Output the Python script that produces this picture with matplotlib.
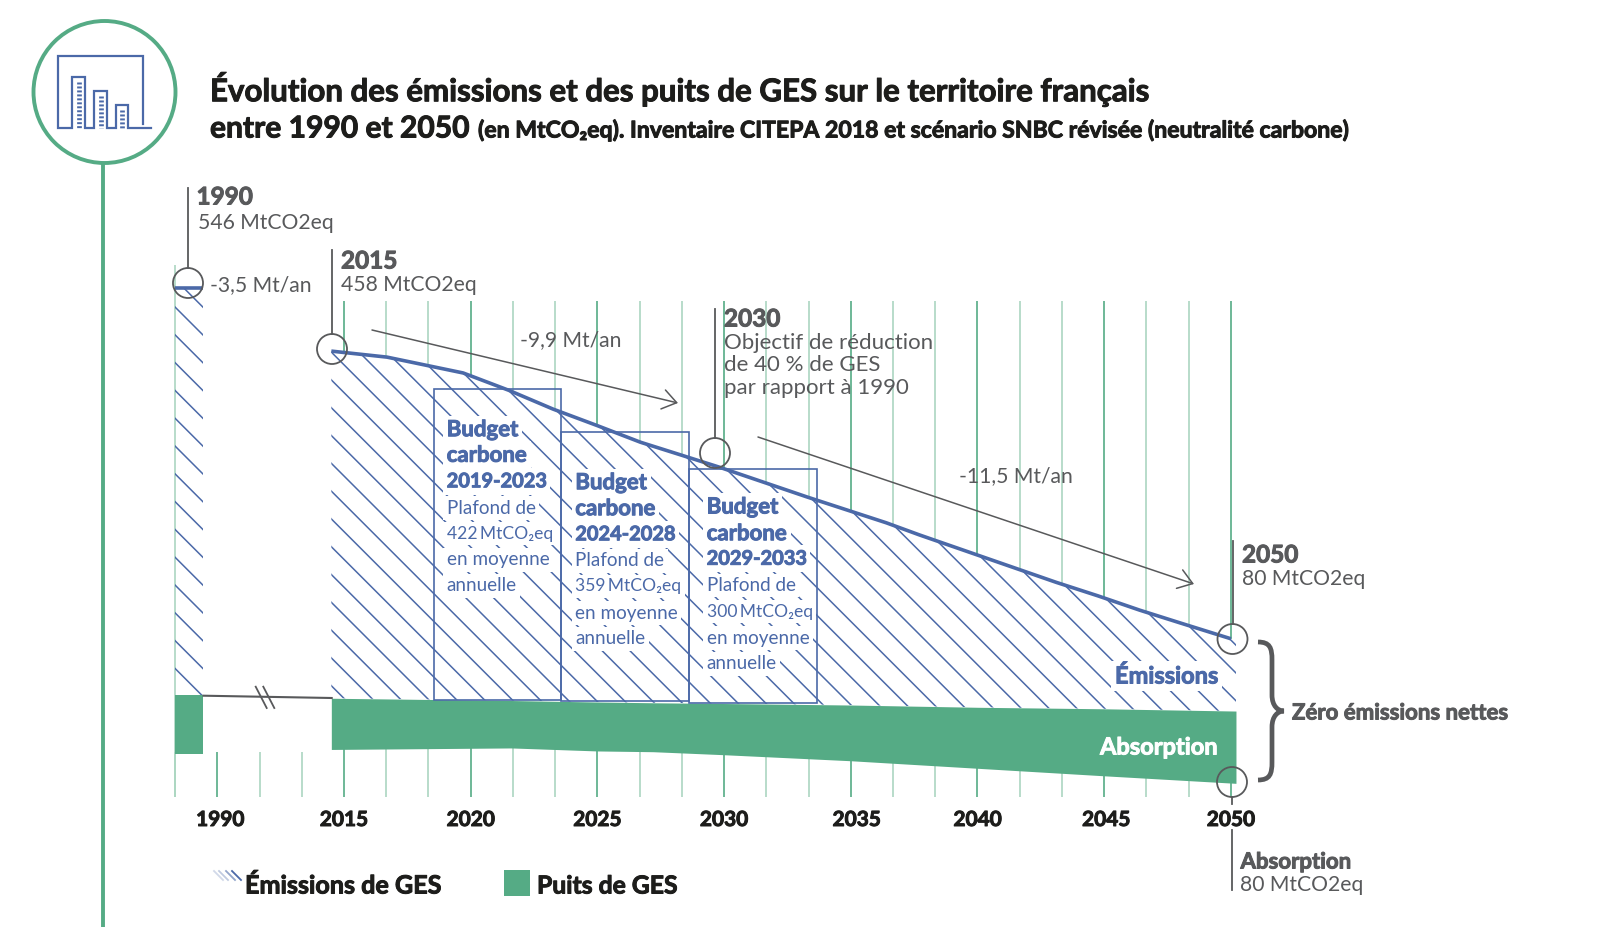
import numpy as np
import matplotlib
matplotlib.use("Agg")
import matplotlib.pyplot as plt
import matplotlib.patheffects as pe
from matplotlib.collections import LineCollection
from matplotlib.patches import Circle, Polygon, Rectangle, PathPatch
from matplotlib.path import Path

plt.rcParams['font.family'] = ['Lato', 'Noto Sans', 'DejaVu Sans']

# emissions curve, axis is broken so 1990 sits at position 2010
EMI_YEARS = [2014.5, 2016.7, 2019.7, 2021.5, 2023.25, 2025, 2026.7, 2028.3, 2029.8, 2033.3,
             2034.85, 2036.4, 2037.7, 2043.1, 2044.75, 2046.4, 2048, 2050]
EMI_VALUES = [462, 454, 433, 410, 385, 363, 341, 324, 308, 268, 251, 234, 218, 155, 137, 118, 101, 80]
EMI_1990 = 546

SINK_YEARS = [2014.5, 2021.6, 2025, 2027.2, 2030, 2035, 2040, 2045, 2050.2]
SINK_TOP = [1, -2, -4, -5, -6, -8, -11, -13, -16]
SINK_LOW = [-67, -65, -69, -70, -74, -82, -92, -102, -112]
COL_1990_X = [2008.33, 2009.45]
COL_1990_TOP = 5
COL_1990_LOW = -73

BUDGET_EDGES = [2018.55, 2023.57, 2028.63, 2033.68]
BUDGET_TOPS = [412, 355, 306]
BUDGET_NAMES = ["2019-2023", "2024-2028", "2029-2033"]
BUDGET_CAPS = ["422", "359", "300"]

TICK_POS = [2010, 2015, 2020, 2025, 2030, 2035, 2040, 2045, 2050]
TICK_LABELS = ["1990", "2015", "2020", "2025", "2030", "2035", "2040", "2045", "2050"]

BLUE = "#4B69A8"
GREEN = "#55AB85"
LIGHT = "#ABD6C1"
GREY = "#58595B"
DARK = "#1D1D1B"


def px_x(p):
    return 2015 + (p - 344) / 25.34


def px_y(p):
    return (699 - p) / 0.753


fig = plt.figure(figsize=(16, 9.27), dpi=100)
ax = fig.add_axes([0, 0, 1, 1])
ax.set_xlim(px_x(0), px_x(1600))
ax.set_ylim(px_y(927), px_y(0))
ax.axis("off")
ov = fig.add_axes([0, 0, 1, 1])  # pixel overlay for labels and callouts
ov.set_xlim(0, 1600)
ov.set_ylim(927, 0)
ov.axis("off")
ov.patch.set_visible(False)


def label(x, y, s, size, color=GREY, weight="normal", va="center_baseline", **kw):
    t = ov.text(x, y, s, fontsize=size, color=color, fontweight=weight, va=va, **kw)
    if weight == "bold":  # Lato bold is lighter than the original face
        t.set_path_effects([pe.withStroke(linewidth=0.7, foreground=color)])
    return t


# vertical grid, broken by the filled area
for i in range(-4, 22):
    pos = 2015 + i * 5 / 3
    major = i % 3 == 0
    c, lw = (GREEN, 1.2) if major else (LIGHT, 1.2)
    if pos < 2014:
        ax.vlines(pos, px_y(797), px_y(752), color=c, lw=lw)
        if i == -4:
            ax.vlines(pos, px_y(797), px_y(265), color=c, lw=lw)
        continue
    ax.vlines(pos, px_y(797), np.interp(pos, SINK_YEARS, SINK_LOW), color=c, lw=lw)
    ax.vlines(pos, np.interp(pos, EMI_YEARS, EMI_VALUES), px_y(301), color=c, lw=lw)

# hatched emissions
poly_main = np.vstack([np.column_stack([EMI_YEARS + [2050.2], EMI_VALUES + [78]]),
                       np.column_stack([SINK_YEARS[::-1], SINK_TOP[::-1]])])
poly_1990 = [(COL_1990_X[0], EMI_1990), (COL_1990_X[1], EMI_1990),
             (COL_1990_X[1], COL_1990_TOP), (COL_1990_X[0], COL_1990_TOP)]
segs = [[(c + 200, 200), (c + 760, 760)] for c in 7 + 27.8 * np.arange(-30, 50)]
for verts in (poly_main, poly_1990):
    clip = Polygon(verts, closed=True, fc="none", ec="none", transform=ax.transData)
    ax.add_patch(clip)
    lc = LineCollection(segs, colors=BLUE, linewidths=1.1, transform=ov.transData, zorder=2)
    ax.add_collection(lc, autolim=False)
    lc.set_clip_path(clip)

# sinks
ax.fill_between(SINK_YEARS, SINK_LOW, SINK_TOP, color=GREEN, lw=0, zorder=3)
ax.fill_between(COL_1990_X, COL_1990_LOW, COL_1990_TOP, color=GREEN, lw=0, zorder=3)

# emissions line
ax.plot(EMI_YEARS, EMI_VALUES, color=BLUE, lw=2.6, zorder=5, solid_capstyle="butt")
ax.plot(COL_1990_X, [EMI_1990, EMI_1990], color=BLUE, lw=2.6, zorder=5, solid_capstyle="butt")

# carbon budgets
for k in range(3):
    x0, x1 = BUDGET_EDGES[k], BUDGET_EDGES[k + 1]
    bottom = np.interp(x0, SINK_YEARS, SINK_TOP)
    ax.add_patch(Rectangle((x0, bottom), x1 - x0, BUDGET_TOPS[k] - bottom, fc="none",
                           ec=BLUE, lw=1.2, zorder=4))

budget_x = [446.7, 575.3, 706.7]
budget_y = [[427.7, 453.3, 479.3, 506.7, 532.3, 558.3, 584.3],
            [480.7, 506.7, 532.3, 559.3, 585, 611.7, 637.3],
            [505, 531.7, 556.7, 584, 610, 636.7, 662.3]]
budget_sizes = [16, 16, 14.4, 13.6, 12.6, 13.6, 13.6]
halo = dict(fc="white", ec="none", pad=2.5)
for k in range(3):
    lines = ["Budget", "carbone", BUDGET_NAMES[k], "Plafond de",
             BUDGET_CAPS[k] + "\u2009MtCO₂eq", "en moyenne", "annuelle"]
    for j, s in enumerate(lines):
        label(budget_x[k], budget_y[k][j], s, budget_sizes[j], BLUE,
              "bold" if j < 3 else "normal", bbox=halo, zorder=6)

# title
label(210, 87, "Évolution des émissions et des puits de GES sur le territoire français", 22.5, DARK, "bold")
label(210, 137.5, "entre 1990 et 2050", 21.6, DARK, "bold", va="baseline")
label(478, 137.5, "(en MtCO₂eq). Inventaire CITEPA 2018 et scénario SNBC révisée (neutralité carbone)",
      16.6, DARK, "bold", va="baseline")

# icon
ov.add_patch(Circle((104.5, 92), 71, fc="none", ec=GREEN, lw=2.8))
ov.plot([103, 103], [163, 927], color=GREEN, lw=2.8, solid_capstyle="butt")
ov.plot([143, 143, 58, 58, 72, 72, 85, 85, 94, 94, 107, 107, 116, 116, 128, 128, 151],
        [124, 56, 56, 128, 128, 77, 77, 128, 128, 91, 91, 128, 128, 105, 105, 128, 128],
        color=BLUE, lw=1.6, solid_joinstyle="miter")
for xb, yb in ((78.5, 82), (100.5, 96), (122, 110)):
    ov.plot([xb, xb], [yb, 128], color=BLUE, lw=3.4, ls=(0, (0.42, 0.42)), solid_capstyle="butt")

# callouts
for x, y0, cy in ((188, 188, 283), (332, 250, 349), (715, 309, 453), (1232.5, 541, 639)):
    ov.plot([x, x], [y0, cy - 15], color=GREY, lw=1.3)
    ov.add_patch(Circle((x, cy), 15, fc="none", ec=GREY, lw=1.3, zorder=7))
ov.add_patch(Circle((1232, 782), 15, fc="none", ec=GREY, lw=1.3, zorder=7))
ov.plot([1232, 1232], [797, 804], color=GREY, lw=1.3)
ov.plot([1232, 1232], [830, 890], color=GREY, lw=1.3)

label(196.5, 195, "1990", 17.5, weight="bold")
label(198, 221, "546 MtCO2eq", 15.2)
label(210.5, 283, "-3,5 Mt/an", 15.2)
label(341, 259, "2015", 17.5, weight="bold")
label(341, 283, "458 MtCO2eq", 15.2)
label(520, 338, "-9,9 Mt/an", 15.2)
label(724, 317, "2030", 17.5, weight="bold")
label(724.5, 341, "Objectif de réduction", 16)
label(724.5, 363, "de 40 % de GES", 16)
label(724.5, 386, "par rapport à 1990", 16)
label(959, 474, "-11,5 Mt/an", 15.2)
label(1242, 553, "2050", 17.5, weight="bold")
label(1242, 577, "80 MtCO2eq", 15.2)
label(1240.5, 860, "Absorption", 16, weight="bold")
label(1240.5, 883, "80 MtCO2eq", 15.2)
label(1115, 674, "Émissions", 17, BLUE, "bold", bbox=halo, zorder=6)
label(1100, 745, "Absorption", 17, "white", "bold", zorder=6)
label(1292, 711, "Zéro émissions nettes", 16, weight="bold")

# rate arrows
for start, end in (((372, 330), (678, 403)), ((758, 437), (1194, 584))):
    ov.annotate("", xy=end, xytext=start,
                arrowprops=dict(arrowstyle="->,head_length=1.0,head_width=0.7", color=GREY,
                                lw=1.1, shrinkA=0, shrinkB=0, mutation_scale=10))

# axis break
ov.plot([203.5, 331.7], [695.7, 698], color=GREY, lw=1.5)
for x in (255.7, 263.3):
    ov.plot([x, x + 11], [686.7, 708], color=GREY, lw=1.3)

# brace
brace = Path([(1258, 642), (1270, 642), (1272, 648), (1272, 660), (1272, 695),
              (1272, 706), (1278, 711), (1284, 711), (1278, 711), (1272, 716), (1272, 727),
              (1272, 762), (1272, 774), (1270, 780), (1258, 780)],
             [Path.MOVETO, Path.CURVE4, Path.CURVE4, Path.CURVE4, Path.LINETO,
              Path.CURVE4, Path.CURVE4, Path.CURVE4, Path.CURVE4, Path.CURVE4, Path.CURVE4,
              Path.LINETO, Path.CURVE4, Path.CURVE4, Path.CURVE4])
ov.add_patch(PathPatch(brace, fc="none", ec=GREY, lw=3.4))

# x labels
nudge = {"1990": 3, "2035": 6, "2045": 2}
for pos, s in zip(TICK_POS, TICK_LABELS):
    xp = 344 + (pos - 2015) * 25.34
    label(xp + nudge.get(s, 0), 818, s, 15, DARK, "bold", ha="center")

# legend
for x0, alpha in ((214, 0.25), (219, 0.35), (226, 0.6), (232, 1.0)):
    ov.plot([x0, x0 + 9], [871, 880], color=BLUE, lw=1.3, alpha=alpha)
label(245, 884, "Émissions de GES", 18.1, DARK, "bold")
ov.add_patch(Rectangle((504, 870), 26, 26, fc=GREEN, ec="none"))
label(537, 884, "Puits de GES", 17.8, DARK, "bold")

fig.savefig("out.png", dpi=100)
